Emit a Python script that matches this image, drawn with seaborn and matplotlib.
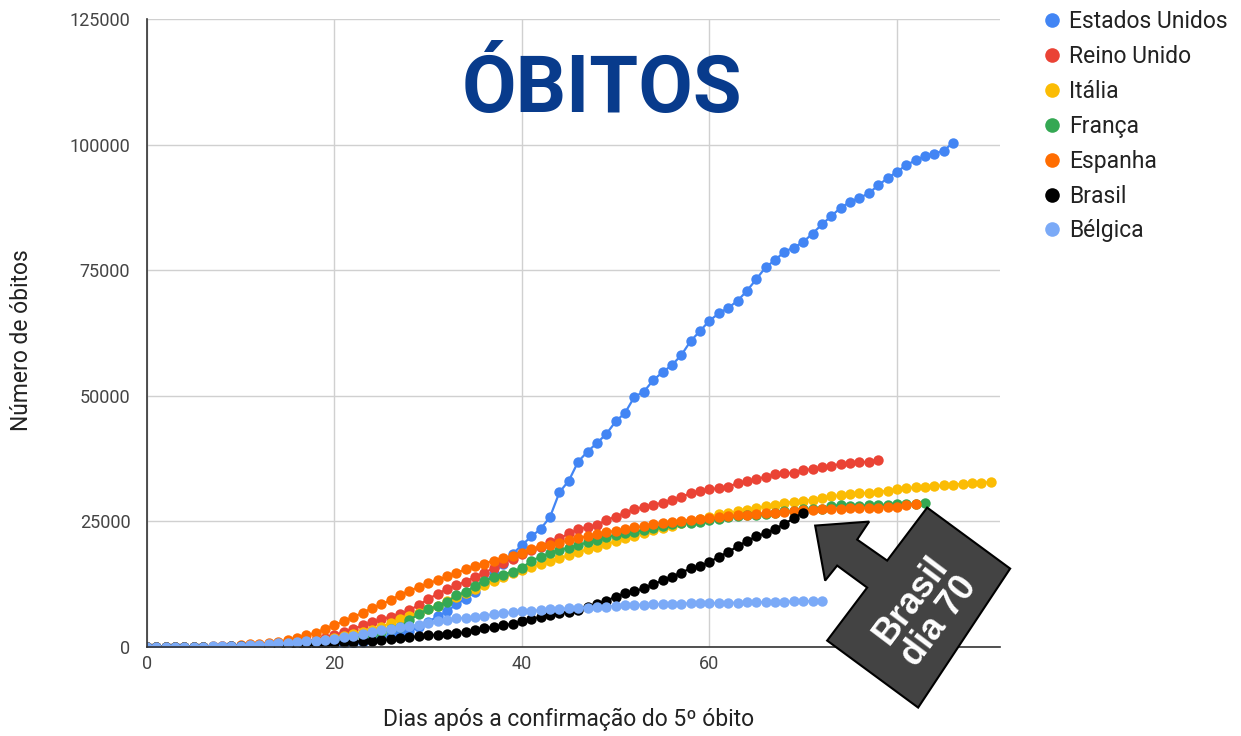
import numpy as np
import pandas as pd
import matplotlib
matplotlib.use("Agg")
import matplotlib.pyplot as plt
from matplotlib.lines import Line2D
from matplotlib.patches import Polygon
import seaborn as sns

# Cumulative deaths, one value per day counted from the 5th death
estados_unidos = [
    6, 9, 11, 12, 15, 19, 22, 26, 30, 38,
    41, 48, 57, 68, 86, 109, 150, 206, 255, 341,
    471, 600, 800, 1070, 1400, 1800, 2300, 2700, 3200, 4000,
    5000, 6100, 7100, 8500, 9600, 10900, 12700, 14700, 16600, 18500,
    20300, 22000, 23500, 25900, 30800, 33100, 36900, 38900, 40600, 42400,
    44900, 46600, 49800, 50800, 53100, 54700, 56100, 58100, 60900, 62900,
    64950, 66400, 67500, 68900, 70900, 73200, 75600, 77000, 78700, 79500,
    80600, 82300, 84100, 85800, 87400, 88600, 89400, 90300, 91900, 93300,
    94600, 95900, 96900, 97700, 98200, 98800, 100400,
]
reino_unido = [
    6, 8, 8, 10, 21, 35, 55, 71, 104, 144,
    177, 233, 281, 335, 422, 520, 800, 1100, 1450, 1850,
    2400, 2950, 3600, 4300, 4950, 5500, 6030, 6570, 7300, 8400,
    9500, 10600, 11500, 12300, 13000, 14000, 14800, 15700, 16700, 17600,
    18500, 19300, 20000, 20900, 21600, 22600, 23400, 23900, 24200, 25300,
    25900, 26700, 27400, 27900, 28300, 28700, 29300, 29900, 30600, 31100,
    31400, 31600, 31900, 32600, 33000, 33400, 33900, 34400, 34600, 34700,
    35200, 35400, 35800, 36100, 36400, 36600, 36750, 36900, 37300,
]
italia = [
    7, 10, 12, 17, 21, 29, 34, 52, 79, 107,
    148, 197, 233, 366, 463, 631, 827, 1016, 1266, 1441,
    1809, 2158, 2503, 2978, 3405, 4032, 4825, 5476, 6077, 6820,
    7503, 8165, 9134, 10023, 10779, 11591, 12428, 13155, 13915, 14681,
    15362, 15887, 16523, 17127, 17669, 18279, 18849, 19468, 19899, 20465,
    21067, 21645, 22170, 22745, 23227, 23660, 24114, 24648, 25085, 25549,
    25969, 26384, 26644, 26977, 27359, 27682, 27967, 28236, 28710, 28884,
    29079, 29315, 29684, 29958, 30201, 30395, 30560, 30739, 30911, 31106,
    31368, 31610, 31763, 31908, 32007, 32169, 32330, 32486, 32616, 32735,
    32785,
]
franca = [
    6, 9, 11, 19, 19, 33, 48, 48, 79, 91,
    91, 149, 149, 149, 244, 451, 563, 676, 862, 1102,
    1333, 1698, 1997, 2317, 2611, 3030, 3532, 4043, 5398, 6520,
    7574, 8093, 8926, 10343, 10887, 12228, 13215, 13851, 14412, 14986,
    15712, 17188, 17941, 18703, 19345, 19744, 20292, 20829, 21373, 21889,
    22278, 22648, 22893, 23327, 23694, 24121, 24410, 24594, 24760, 24895,
    25204, 25537, 25812, 25990, 26233, 26313, 26383, 26646, 26994, 27077,
    27428, 27532, 27529, 28111, 28239, 28022, 28132, 28218, 28289, 28332,
    28370, 28460, 28533, 28599,
]
espanha = [
    5, 10, 17, 28, 35, 54, 55, 133, 195, 289,
    342, 533, 623, 830, 1043, 1375, 1772, 2311, 2808, 3647,
    4365, 5138, 5982, 6803, 7716, 8464, 9387, 10348, 11198, 11947,
    12641, 13341, 14045, 14792, 15447, 16081, 16606, 17209, 17756, 18056,
    18708, 19450, 20050, 20350, 20800, 21250, 21600, 22100, 22450, 22800,
    23150, 23450, 23800, 24050, 24450, 24700, 24900, 25150, 25300, 25450,
    25610, 25800, 26000, 26200, 26350, 26500, 26600, 26750, 26900, 27100,
    27200, 27300, 27400, 27450, 27500, 27600, 27650, 27700, 27750, 27850,
    27950, 28200, 28500,
]
brasil = [
    6, 11, 15, 25, 34, 46, 59, 77, 92, 111,
    136, 159, 201, 240, 324, 359, 445, 486, 564, 686,
    819, 950, 1057, 1124, 1223, 1328, 1532, 1736, 1924, 2141,
    2354, 2462, 2587, 2741, 2906, 3331, 3704, 4057, 4286, 4603,
    5083, 5513, 6006, 6412, 6761, 7051, 7367, 7938, 8588, 9190,
    10017, 10656, 11123, 11653, 12461, 13240, 13999, 14817, 15633, 16118,
    16853, 17983, 18859, 20047, 21048, 22013, 22666, 23473, 24512, 25598,
    26754,
]
belgica = [
    10, 14, 21, 37, 67, 75, 88, 122, 178, 220,
    289, 353, 431, 513, 705, 828, 1011, 1143, 1283, 1447,
    1632, 2035, 2240, 2523, 3019, 3346, 3600, 3903, 4157, 4440,
    4857, 5163, 5453, 5683, 5828, 5998, 6262, 6490, 6679, 6917,
    7094, 7207, 7331, 7501, 7594, 7700, 7765, 7844, 7924, 8016,
    8200, 8300, 8380, 8440, 8500, 8550, 8600, 8640, 8680, 8710,
    8740, 8770, 8800, 8840, 8870, 8900, 8940, 8980, 9020, 9060,
    9100, 9130, 9160,
]

paises = ["Estados Unidos", "Reino Unido", "Itália", "França", "Espanha", "Brasil", "Bélgica"]
series = [estados_unidos, reino_unido, italia, franca, espanha, brasil, belgica]
cores = ["#4285f4", "#ea4335", "#fbbc04", "#34a853", "#ff6d01", "#000000", "#7baaf7"]

x_ticks = [0, 20, 40, 60, 80]
y_ticks = [0, 25000, 50000, 75000, 100000, 125000]

sns.set_theme(style="whitegrid")
plt.rcParams["font.family"] = ["Roboto", "DejaVu Sans"]

df = pd.concat(
    [pd.DataFrame({"dia": np.arange(len(v)), "obitos": v, "pais": p})
     for p, v in zip(paises, series)],
    ignore_index=True,
)

W, H = 1241, 736
fig = plt.figure(figsize=(W / 100, H / 100), dpi=100)
ax = fig.add_axes([147 / W, 89 / H, 853 / W, 628 / H])

sns.lineplot(
    data=df, x="dia", y="obitos", hue="pais", hue_order=paises,
    palette=cores, marker="o", markersize=7.5, markeredgewidth=0,
    linewidth=1.6, estimator=None, legend=False, ax=ax,
)

ax.set_xlim(0, 91)
ax.set_ylim(0, 125000)
ax.set_xticks(x_ticks)
ax.set_yticks(y_ticks)
ax.set_yticklabels([str(v) for v in y_ticks])
ax.grid(True, color="#d0d0d0", linewidth=1)
ax.set_facecolor("white")
for side in ["top", "right"]:
    ax.spines[side].set_visible(False)
for side in ["left", "bottom"]:
    ax.spines[side].set_color("#333333")
    ax.spines[side].set_linewidth(1.2)
ax.tick_params(axis="both", length=0, labelsize=13, colors="#444444")
ax.tick_params(axis="y", pad=12)
ax.tick_params(axis="x", pad=6)

ax.set_xlabel("Dias após a confirmação do 5º óbito", fontsize=16.5,
              color="#222222", va="center")
ax.set_ylabel("Número de óbitos", fontsize=16.5, color="#222222",
              va="center", ha="center")
ax.xaxis.set_label_coords(0.494, -0.116)
ax.yaxis.set_label_coords(-0.147, 0.489)

# title inside the plot
fig.text(602 / W, 1 - 112 / H, "ÓBITOS", ha="center", va="baseline",
         fontsize=57, fontweight="bold", color="#083b8c")

# legend on the right
handles = [Line2D([], [], marker="o", linestyle="", color=c, markersize=10.5,
                  markeredgewidth=0) for c in cores]
fig.legend(handles, paises, loc="upper left", bbox_to_anchor=(1043 / W, 1 - 10 / H),
           frameon=False, fontsize=16.5, handlelength=0.8, handletextpad=0.35,
           labelspacing=0.52, borderpad=0, borderaxespad=0, labelcolor="#222222")

# "Brasil dia 70" callout arrow pointing at the last Brazil point
tip = ax.transData.transform((len(brasil) - 1, brasil[-1])) + np.array([12, -13])
offsets = np.array([
    (0, 0), (54, 4), (42, -14), (72, -35), (112, 18), (195, -43),
    (103, -182), (12, -115), (52, -62), (22, -40), (10, -55),
])
pts = fig.transFigure.inverted().transform(tip + offsets)
fig.add_artist(Polygon(pts, closed=True, transform=fig.transFigure,
                       facecolor="#434343", edgecolor="black", linewidth=1.5,
                       zorder=10))
cx, cy = fig.transFigure.inverted().transform(tip + np.array([110, -85]))
fig.text(cx, cy, "Brasil\ndia 70", rotation=53, rotation_mode="anchor",
         ha="center", va="center", color="white", fontweight="bold",
         fontsize=26, family="Liberation Sans", linespacing=1.0, zorder=11)

fig.savefig("out.png", dpi=100)
